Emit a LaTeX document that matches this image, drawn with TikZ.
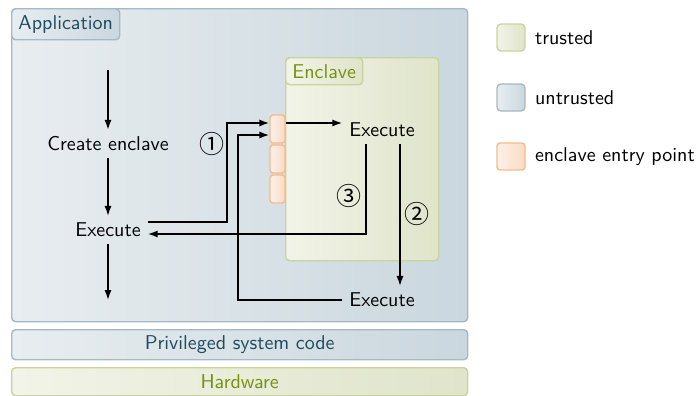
\documentclass[tikz,border=0pt]{standalone}
\usepackage{fontspec}
\usetikzlibrary{arrows.meta}
\newfontfamily\circfont{Noto Sans CJK SC}
\definecolor{untrL}{HTML}{E8EDF0}
\definecolor{untrR}{HTML}{CAD7DE}
\definecolor{untrB}{HTML}{A3B9C4}
\definecolor{untrT}{HTML}{1D4C5E}
\definecolor{trL}{HTML}{F2F4E7}
\definecolor{trR}{HTML}{DFE4CA}
\definecolor{trB}{HTML}{C9D49C}
\definecolor{trT}{HTML}{789010}
\definecolor{enL}{HTML}{FDF1E8}
\definecolor{enR}{HTML}{F9DBC4}
\definecolor{enB}{HTML}{F3BC8E}
\begin{document}
\begin{tikzpicture}[x=0.5pt,y=-0.5pt,font=\sffamily,
  untrusted/.style={draw=untrB,line width=0.7pt,rounded corners=2pt,left color=untrL,right color=untrR,inner sep=0pt},
  trusted/.style={draw=trB,line width=0.7pt,rounded corners=2pt,left color=trL,right color=trR,inner sep=0pt},
  entry/.style={draw=enB,line width=0.7pt,rounded corners=1.5pt,left color=enL,right color=enR,inner sep=0pt,minimum width=7.5pt,minimum height=14pt},
  legbox/.style={minimum width=14pt,minimum height=13.5pt},
  txt/.style={inner sep=3.33pt},
  circ/.style={font=\circfont\fontsize{12.5pt}{14pt}\selectfont,inner sep=0pt},
  arr/.style={line width=0.8pt,-{Latex[length=5pt,width=3.6pt]}},
  ln/.style={line width=0.8pt}]
\useasboundingbox (0,0) rectangle (696,396);
% application
\node[untrusted,minimum width=228pt,minimum height=156.5pt,anchor=north west] (app) at (11,8) {};
\node[untrusted,minimum width=54pt,minimum height=15.5pt,anchor=north west,text=untrT] (apptab) at (11,8) {Application};
% enclave
\node[trusted,minimum width=76.5pt,minimum height=101.5pt,anchor=north west] (encl) at (285,57) {};
\node[trusted,minimum width=38.5pt,minimum height=13.5pt,anchor=north west,text=trT] (encltab) at (285,57) {Enclave};
% entry points
\node[entry] (e1) at (277.5,129) {};
\node[entry] (e2) at (277.5,159) {};
\node[entry] (e3) at (277.5,189) {};
% bars
\node[untrusted,minimum width=228pt,minimum height=15pt,anchor=north west] (priv) at (11,329) {};
\node[text=untrT] (privt) at (priv.center) {Privileged system code};
\node[trusted,minimum width=228pt,minimum height=14pt,anchor=north west] (hw) at (11,367) {};
\node[text=trT] (hwt) at (hw.center) {Hardware};
% legend
\node[trusted,legbox] (lt) at (511,37.5) {};
\node[anchor=west] (ltt) at (528,37.5) {trusted};
\node[untrusted,legbox] (lu) at (511,97.5) {};
\node[anchor=west] (lut) at (528,97.5) {untrusted};
\node[entry,legbox] (le) at (511,156.5) {};
\node[anchor=west] (let) at (528,156.5) {enclave entry point};
% flow
\coordinate (top) at (108,70);
\coordinate (bot) at (108,300);
\node[txt] (create) at (108,144) {Create enclave};
\node[txt] (exec1) at (108,230) {Execute};
\node[txt] (exec2) at (382,130) {Execute};
\node[txt] (exec3) at (382,300) {Execute};
\draw[arr] (top) -- (create.north);
\draw[arr] (create.south) -- (exec1.north);
\draw[arr] (exec1.south) -- (bot);
\draw[arr] ([yshift=4pt]exec1.east) -- ++(79,0) |- ([yshift=3pt]e1.west);
\draw[arr] ([yshift=3pt]e1.east) -- ([yshift=3pt]e1.east -| exec2.west);
\draw[arr] (exec3.west) -- ++(-104,0) |- ([yshift=-3pt]e1.west);
\draw[arr] ([xshift=-8pt]exec2.south) |- ([yshift=-2pt]exec1.east);
\draw[arr] ([xshift=9pt]exec2.south) -- ([xshift=9pt]exec3.north);
\node[circ] (c1) at (212,144) {①};
\node[circ] (c3) at (349,196) {③};
\node[circ] (c2) at (417,214) {②};
\end{tikzpicture}
\end{document}
